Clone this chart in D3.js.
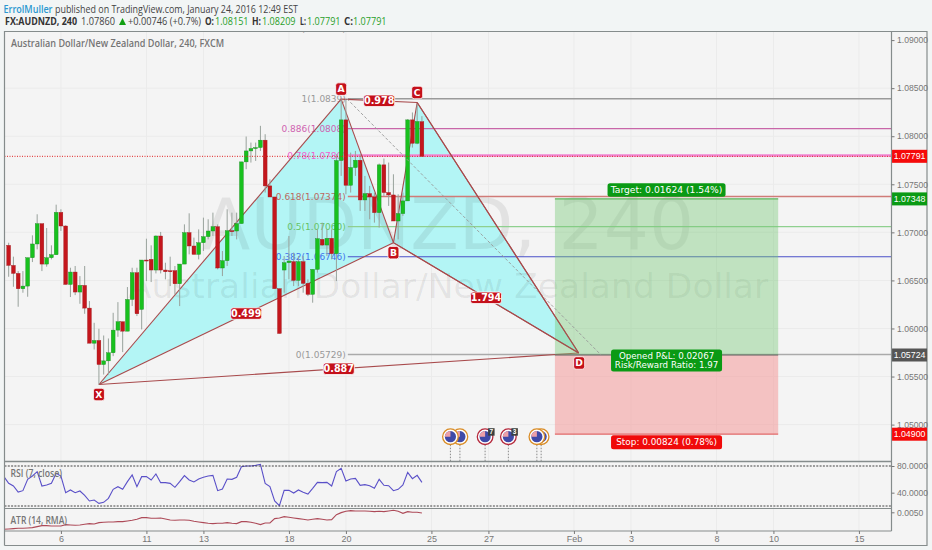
<!DOCTYPE html>
<html><head><meta charset="utf-8">
<script src="https://cdn.jsdelivr.net/npm/d3@7/dist/d3.min.js"></script>
<style>html,body{margin:0;padding:0;background:#f2f5f5;overflow:hidden}svg{display:block}</style>
</head><body><svg id="c" width="932" height="550"></svg>
<script>
// Candle data, bar index = array position
const opens=[1.06865,1.06656,1.06573,1.06413,1.06441,1.06736,1.06879,1.07090,1.06670,1.06736,1.06767,1.07208,1.07066,1.06458,1.06587,1.06379,1.06448,1.06212,1.05847,1.05875,1.05625,1.05663,1.05747,1.05983,1.06070,1.05972,1.06302,1.06580,1.06198,1.06712,1.06719,1.06608,1.06962,1.06608,1.06600,1.06601,1.06465,1.06670,1.06997,1.06858,1.06771,1.06892,1.06955,1.07014,1.07059,1.06629,1.06705,1.07017,1.07014,1.07091,1.07733,1.07847,1.07872,1.07882,1.07959,1.07483,1.07368,1.06414,1.06608,1.06684,1.06695,1.06500,1.06695,1.06469,1.06355,1.06615,1.06927,1.06868,1.06938,1.06778,1.07747,1.08170,1.07490,1.07674,1.07750,1.07337,1.07403,1.07368,1.07205,1.07702,1.07414,1.07389,1.07118,1.07195,1.07327,1.08170,1.07927,1.08151];
const highs=[1.06892,1.06747,1.06597,1.06597,1.06736,1.06969,1.07188,1.07090,1.07045,1.06865,1.07288,1.07240,1.07073,1.06632,1.06650,1.06545,1.06650,1.06285,1.06059,1.05997,1.05927,1.05896,1.06163,1.06274,1.06070,1.06431,1.06632,1.06632,1.06712,1.06934,1.06865,1.06969,1.07004,1.06684,1.06747,1.06650,1.06670,1.07083,1.07198,1.06945,1.07031,1.07153,1.07136,1.07205,1.07083,1.06806,1.07240,1.07205,1.07205,1.07733,1.07997,1.07934,1.07934,1.08108,1.08021,1.07552,1.07368,1.06414,1.06754,1.06962,1.06789,1.06754,1.06754,1.06511,1.06615,1.07032,1.07101,1.07032,1.07032,1.07813,1.08386,1.08386,1.07830,1.07847,1.07813,1.07587,1.07483,1.07414,1.07716,1.07768,1.07726,1.07604,1.07396,1.07414,1.08177,1.08247,1.08334,1.08209];
const lows=[1.06538,1.06434,1.06226,1.06372,1.06330,1.06691,1.06823,1.06597,1.06643,1.06719,1.06767,1.07014,1.06458,1.06327,1.06347,1.06257,1.06153,1.05847,1.05781,1.05417,1.05521,1.05521,1.05712,1.05913,1.05754,1.05972,1.06233,1.06129,1.05990,1.06493,1.06483,1.06573,1.06573,1.06511,1.06441,1.06354,1.06233,1.06670,1.06771,1.06771,1.06719,1.06806,1.06927,1.06962,1.06615,1.06545,1.06650,1.06962,1.06927,1.07091,1.07657,1.07726,1.07743,1.07847,1.07414,1.07368,1.06414,1.05948,1.06372,1.06511,1.06441,1.06441,1.06372,1.06337,1.06268,1.06580,1.06858,1.06754,1.06719,1.06493,1.07587,1.07396,1.07414,1.07587,1.07223,1.07223,1.07136,1.07101,1.07049,1.07379,1.07275,1.07118,1.06927,1.07171,1.07327,1.07882,1.07917,1.07791];
const closes=[1.06656,1.06573,1.06413,1.06441,1.06736,1.06879,1.07090,1.06670,1.06736,1.06767,1.07208,1.07066,1.06458,1.06587,1.06379,1.06448,1.06212,1.05847,1.05875,1.05625,1.05663,1.05747,1.05983,1.06070,1.05972,1.06302,1.06580,1.06153,1.06712,1.06705,1.06608,1.06962,1.06608,1.06590,1.06593,1.06465,1.06670,1.06997,1.06858,1.06771,1.06892,1.06955,1.07014,1.07059,1.06629,1.06705,1.07017,1.07010,1.07091,1.07733,1.07847,1.07872,1.07882,1.07959,1.07483,1.07368,1.06414,1.05948,1.06684,1.06702,1.06500,1.06695,1.06469,1.06355,1.06615,1.06934,1.06868,1.06938,1.06778,1.07747,1.08170,1.07490,1.07674,1.07750,1.07337,1.07403,1.07368,1.07205,1.07702,1.07414,1.07389,1.07118,1.07195,1.07327,1.08170,1.07927,1.08153,1.07791];
// RSI and ATR start one bar before the first candle
const rsiValues=[64,54,50,41,43,60,65,71.5,50,51.5,54,69,65,40,44,40,42.5,36,27.5,29,24,25.5,31.5,45,49,45,56.5,66.5,49,64,64,59,68,55,55,54,48,56.5,65.5,59,56,60.5,63,65,66,43,45.5,60.5,60,63,79,80,80,81,82.5,54,49,27.5,20.5,43.5,43.5,39.5,44,40.5,38,46.5,55.5,55,55.5,50,71.5,76.5,57.5,60.5,61.5,51,52,50.5,46.5,60,51,50.5,43,45,51.5,70.5,61,66,55.5];
const atrValues=[.00245,.0025,.00255,.0026,.0026,.00265,.0027,.00285,.003,.003,.00295,.00295,.00295,.00315,.0031,.00305,.0031,.0032,.0033,.00325,.00345,.0035,.00355,.00355,.0036,.0036,.0037,.0038,.00395,.0042,.0042,.0041,.0041,.00415,.004,.00385,.0038,.00385,.00385,.0038,.00365,.00355,.00345,.00335,.0033,.00335,.00335,.00345,.00335,.0033,.0036,.0036,.0035,.00335,.00315,.0034,.0034,.00405,.00415,.00435,.00425,.00415,.00405,.00395,.00385,.00395,.00405,.00395,.00385,.0039,.00465,.00495,.00515,.00525,.0052,.0052,.0052,.00515,.0051,.00515,.0051,.0052,.0053,.00515,.00485,.0051,.005,.005,.0049];
const priceTicks=[1.05,1.055,1.06,1.065,1.07,1.075,1.08,1.085,1.09];
const dateBars=[11,29,41,59,71,89,101,119,131,149,161,179];
const dateLabels=["6","11","13","18","20","25","27","Feb","3","8","10","15"];
const rsiTicks=[80,40];
const atrTicks=[.005];
// Harmonic pattern
const patNames=["X","A","B","C","D"];
const patBars=[19,70,81,86,120];
const patPrices=[1.05417,1.08386,1.06893,1.08351,1.05745];
const patRatios=[["X","B","0.499"],["B","D","1.794"],["X","D","0.887"],["A","C","0.978"]];
// Fibonacci levels
const fibRatios=["1.272","1","0.886","0.78","0.618","0.5","0.382","0"];
const fibPrices=[1.09113,1.0839,1.0808,1.0780,1.07374,1.0706,1.06746,1.05729];
const fibColors=["#999","#999","#cf63b0","#f060d0","#bb6a62","#66c266","#3f73ee","#999"];
const fibLines=["none","#9a9a9a","#c866a8","#f184d2","#d07b78","#8fd08f","#4a50c8","#aaaaaa"];
const fibWidths=[0,1.5,1.2,2.4,1.5,1.2,1.2,1.5];
// Long position tool
const boxBars=[115,162];
const target=1.07348, entry=1.05724, stop=1.049, last=1.07791;
// Events
const eventBars=[93,95,100.3,105.2,111.2,112.1];
const eventRing=["#d98c26","#d98c26","#b5293c","#b5293c","#d98c26","#d98c26"];
const eventBadge=["","","7","3","",""];
const dashEnd=[124.8,1.0572];

const L=4.5,R=891.5,T=31.5,MB=461.5,RB=508.5,B=531,OR=927,OB=545.5;
const svg=d3.select("#c");
const x=d3.scaleLinear().domain([0,100]).range([8.67,483.67]);
const y=d3.scaleLinear().domain([1.05,1.09]).range([424.6,40.1]);
const yRsi=d3.scaleLinear().domain([20,80]).range([506,466]);
const yAtr=d3.scaleLinear().domain([0,.005]).range([545.6,512.3]);
const TF="'Liberation Sans',Arial,sans-serif", DF="'DejaVu Sans',sans-serif", HF="'Open Sans',sans-serif";
const defs=svg.append("defs");
defs.append("clipPath").attr("id","cm").append("rect").attr("x",L).attr("y",T).attr("width",R-L).attr("height",MB-T);
defs.append("clipPath").attr("id","cr").append("rect").attr("x",L).attr("y",MB).attr("width",R-L).attr("height",RB-MB);
defs.append("clipPath").attr("id","ca").append("rect").attr("x",L).attr("y",RB).attr("width",R-L).attr("height",B-RB);

svg.append("rect").attr("x",L).attr("y",T).attr("width",OR-L).attr("height",OB-T).attr("fill","#f4f4f4");
const grid=svg.append("g").attr("stroke","#ebebeb").attr("stroke-width",1);
grid.selectAll("line.v").data(dateBars).join("line").attr("x1",d=>x(d)).attr("x2",d=>x(d)).attr("y1",T).attr("y2",B);
grid.selectAll("line.h").data(priceTicks.filter(d=>d<1.09)).join("line").attr("x1",L).attr("x2",R).attr("y1",d=>y(d)).attr("y2",d=>y(d));

const main=svg.append("g").attr("clip-path","url(#cm)");
const pts={};patNames.forEach((n,i)=>pts[n]=[x(patBars[i]),y(patPrices[i])]);
const ln=d3.line();
[["X","A","B"],["B","C","D"]].forEach(t=>{
  main.append("path").attr("d",ln(t.map(n=>pts[n]))+"Z").attr("fill","#b3f5f5");
});
// watermark above the fills
main.append("text").text("AUDNZD, 240").attr("x",(L+R)/2).attr("y",248.5).attr("text-anchor","middle")
  .attr("font-family",DF).attr("font-size",71).attr("fill","#000").attr("fill-opacity",.07);
main.append("text").text("Australian Dollar/New Zealand Dollar").attr("x",(L+R)/2).attr("y",298).attr("text-anchor","middle")
  .attr("font-family",DF).attr("font-size",34.6).attr("fill","#000").attr("fill-opacity",.07);
// fib levels below the candles
fibRatios.forEach((r,i)=>{
  if(fibWidths[i]>0) main.append("line").attr("x1",x(71.4)).attr("x2",R).attr("y1",y(fibPrices[i])).attr("y2",y(fibPrices[i]))
    .attr("stroke",fibLines[i]).attr("stroke-width",fibWidths[i]);
  main.append("text").text(r+"("+(i==0||i>3?fibPrices[i].toFixed(5):fibPrices[i].toFixed(4))+")")
    .attr("x",x(71.4)-2).attr("y",y(fibPrices[i])+3.2).attr("text-anchor","end")
    .attr("font-family",DF).attr("font-size",9).attr("fill",fibColors[i]);
});
// pattern lines below the candles
const PL="#a84a4c";
[["X","A"],["A","B"],["B","C"],["C","D"],["X","B"],["B","D"],["X","D"],["A","C"]].forEach(([a,b])=>{
  main.append("line").attr("x1",pts[a][0]).attr("y1",pts[a][1]).attr("x2",pts[b][0]).attr("y2",pts[b][1]).attr("stroke",PL).attr("stroke-width",1.1);
});
// candles
const bars=d3.range(opens.length);
const UP="#18c11e",DN="#c4161c";
main.append("g").selectAll("line").data(bars).join("line")
  .attr("x1",d=>x(d)).attr("x2",d=>x(d)).attr("y1",d=>y(highs[d])).attr("y2",d=>y(lows[d]))
  .attr("stroke","#98a29c").attr("stroke-width",1);
main.append("g").selectAll("rect").data(bars).join("rect")
  .attr("x",d=>x(d)-1.9).attr("width",3.8)
  .attr("y",d=>Math.min(y(opens[d]),y(closes[d])))
  .attr("height",d=>Math.max(1,Math.abs(y(opens[d])-y(closes[d]))))
  .attr("fill",d=>closes[d]>=opens[d]?UP:DN)
  .attr("stroke",d=>closes[d]>=opens[d]?"#1a8a22":"#a01a1e").attr("stroke-width",.4);
// box
const bx0=x(boxBars[0]),bx1=x(boxBars[1]);
main.append("rect").attr("x",bx0).attr("width",bx1-bx0).attr("y",y(target)).attr("height",y(entry)-y(target)).attr("fill","#78c878").attr("fill-opacity",.42);
main.append("rect").attr("x",bx0).attr("width",bx1-bx0).attr("y",y(entry)).attr("height",y(stop)-y(entry)).attr("fill","#f58c8c").attr("fill-opacity",.48);
main.append("line").attr("x1",bx0).attr("x2",bx1).attr("y1",y(target)).attr("y2",y(target)).attr("stroke","#5cb45c").attr("stroke-width",1.3);
main.append("line").attr("x1",bx0).attr("x2",bx1).attr("y1",y(stop)).attr("y2",y(stop)).attr("stroke","#e26a6a").attr("stroke-width",1.3);
main.append("line").attr("x1",bx0).attr("x2",bx1).attr("y1",y(entry)).attr("y2",y(entry)).attr("stroke","#666").attr("stroke-width",1);
// last price dotted
main.append("line").attr("x1",L).attr("x2",R).attr("y1",y(last)).attr("y2",y(last)).attr("stroke","#e02020").attr("stroke-width",1).attr("stroke-dasharray","1 1.5");
// dashed projection
main.append("line").attr("x1",x(71.2)).attr("y1",y(fibPrices[1])).attr("x2",x(dashEnd[0])).attr("y2",y(dashEnd[1]))
  .attr("stroke","#999").attr("stroke-width",.9).attr("stroke-dasharray","3 2");
// redraw the tip of C-D and B-D through the box
[["C","D"],["B","D"]].forEach(([a,b])=>{
  main.append("line").attr("x1",pts[a][0]).attr("y1",pts[a][1]).attr("x2",pts[b][0]).attr("y2",pts[b][1]).attr("stroke",PL).attr("stroke-width",1.1);
});
function tag(g,cx,cy,w,h,txt,fill,o={}){
  g.append("rect").attr("x",cx-w/2).attr("y",cy-h/2).attr("width",w).attr("height",h).attr("rx",o.rx??2.5)
   .attr("fill",fill).attr("stroke",o.stroke||"none").attr("stroke-width",.8);
  [].concat(txt).forEach((t,i,a)=>{
    g.append("text").text(t).attr("x",cx).attr("y",cy+(i-(a.length-1)/2)*(o.lh||9)+(o.fs||10)*.36).attr("text-anchor","middle")
     .attr("font-family",o.ff||DF).attr("font-weight",o.fw||"bold").attr("font-size",o.fs||10).attr("fill","#fff");
  });
}
const pc="#c4101a";
patRatios.forEach(([a,b,t])=>{
  const mx=(pts[a][0]+pts[b][0])/2,my=(pts[a][1]+pts[b][1])/2;
  tag(main,mx,my,31,11.5,t,pc,{fs:9.6,stroke:"#fff"});
});
const offs={X:10,A:-10,B:10,C:-10,D:10};
patNames.forEach(n=>tag(main,pts[n][0]+(n=="D"?.5:0),pts[n][1]+offs[n],11,12.5,n,pc,{fs:9.2,stroke:"#fff"}));
// position labels
const boxMid=x((boxBars[0]+boxBars[1])/2);
tag(main,boxMid,y(target)-9,118,13.5,"Target: 0.01624 (1.54%)","#0a9a14",{fs:9.2,fw:"normal"});
tag(main,boxMid,y(entry)+5.5,111,22,["Opened P&L: 0.02067","Risk/Reward Ratio: 1.97"],"#0a9a14",{fs:8.7,fw:"normal",lh:8.8});
tag(main,boxMid,y(stop)+8,111,14,"Stop: 0.00824 (0.78%)","#f00a0a",{fs:8.9,fw:"normal"});
// events
const evY=436.7;
eventBars.forEach((b,i)=>{
  const ex=x(b);
  svg.append("line").attr("x1",ex).attr("x2",ex).attr("y1",evY+8).attr("y2",MB).attr("stroke","#8a8a8a").attr("stroke-dasharray","1.5 1.5");
});
eventBars.map((b,i)=>i).reverse().forEach(i=>{
  const ex=x(eventBars[i]);
  const g=svg.append("g");
  g.append("circle").attr("cx",ex).attr("cy",evY).attr("r",7.8).attr("fill","#fff").attr("stroke",eventRing[i]).attr("stroke-width",1.3);
  g.append("circle").attr("cx",ex).attr("cy",evY).attr("r",5.6).attr("fill","#3f4aa8");
  g.append("path").attr("d",d3.arc()({innerRadius:0,outerRadius:5.6,startAngle:-Math.PI/2,endAngle:0})).attr("transform",`translate(${ex},${evY})`).attr("fill","#eca0a8");
  if(eventBadge[i]){
    g.append("rect").attr("x",ex+3).attr("y",evY-8.5).attr("width",6.5).attr("height",7.5).attr("fill","#3a3f3f");
    g.append("text").text(eventBadge[i]).attr("x",ex+6.2).attr("y",evY-2.5).attr("text-anchor","middle").attr("font-size",6.5).attr("font-weight","bold").attr("font-family",TF).attr("fill","#fff");
  }
});

// panes
const rsiG=svg.append("g").attr("clip-path","url(#cr)");
rsiG.append("path").attr("fill","none").attr("stroke","#5a50c8").attr("stroke-width",1.1)
  .attr("d",d3.line().x((d,i)=>x(i-1)).y(d=>yRsi(d))(rsiValues));
const atrG=svg.append("g").attr("clip-path","url(#ca)");
atrG.append("path").attr("fill","none").attr("stroke","#ad4a58").attr("stroke-width",1.1)
  .attr("d",d3.line().x((d,i)=>x(i-1)).y(d=>yAtr(d))(atrValues));
[80,20].forEach(v=>svg.append("line").attr("x1",L).attr("x2",R).attr("y1",yRsi(v)).attr("y2",yRsi(v)).attr("stroke","#444").attr("stroke-dasharray","2 1.3"));
// frame
const fr=svg.append("g").attr("stroke","#858c8c").attr("fill","none");
fr.append("path").attr("d",`M${L},${OB}V${T}H${OR}V${OB}H${L}`).attr("stroke-width",1.2);
fr.append("line").attr("x1",R).attr("x2",R).attr("y1",T).attr("y2",B).attr("stroke-width",1.2);
fr.append("line").attr("x1",L).attr("x2",R).attr("y1",MB).attr("y2",MB).attr("stroke-width",1.5);
fr.append("line").attr("x1",L).attr("x2",R).attr("y1",RB).attr("y2",RB).attr("stroke-width",1);
fr.append("line").attr("x1",L).attr("x2",R).attr("y1",B).attr("y2",B).attr("stroke-width",1.2);

function styleAxis(g,fs){
  g.select(".domain").remove();
  g.selectAll(".tick line").attr("stroke","#777");
  g.selectAll(".tick text").attr("font-family",TF).attr("font-size",fs).attr("fill","#777");
}
svg.append("g").attr("transform",`translate(${R},0)`)
  .call(d3.axisRight(y).tickValues(priceTicks).tickSize(3).tickPadding(2.5).tickFormat(d3.format(".5f"))).call(styleAxis,8.6);
svg.append("g").attr("transform",`translate(${R},0)`)
  .call(d3.axisRight(yRsi).tickValues(rsiTicks).tickSize(3).tickPadding(2.5).tickFormat(d3.format(".4f"))).call(styleAxis,8.6);
svg.append("g").attr("transform",`translate(${R},0)`)
  .call(d3.axisRight(yAtr).tickValues(atrTicks).tickSize(3).tickPadding(2.5).tickFormat(d3.format(".4f"))).call(styleAxis,8.6);
svg.append("g").attr("transform",`translate(0,${B})`)
  .call(d3.axisBottom(x).tickValues(dateBars).tickSize(3).tickPadding(2).tickFormat((d,i)=>dateLabels[i])).call(styleAxis,9);

// price tags
[[last,"#f50a0a"],[target,"#0a9a14"],[entry,"#555"],[stop,"#f50a0a"]].forEach(([p,c])=>{
  tag(svg,(R+OR)/2+.3,y(p),35,13,p.toFixed(5),c,{rx:0,ff:TF,fs:8.8,fw:"normal"});
});
// header and pane labels, fitted to the widths in the reference
function hdr(t,xx,yy,w,o={}){
  return svg.append("text").text(t).attr("x",xx).attr("y",yy).attr("font-family",HF).attr("font-size",o.fs||10.5)
    .attr("font-weight",o.fw||"normal").attr("fill",o.c||"#444")
    .attr("textLength",w).attr("lengthAdjust","spacingAndGlyphs");
}
hdr("RSI (7, close)",10.5,477,51.5,{fw:600,c:"#757575",fs:10});
hdr("ATR (14, RMA)",10.5,524,56.5,{fw:600,c:"#757575",fs:10});
hdr("Australian Dollar/New Zealand Dollar, 240, FXCM",11,46.5,213,{fw:600,c:"#757575",fs:10});
hdr("ErrolMuller",3.5,12.5,49,{c:"#2b98d0",fw:600,fs:11.5});
hdr("published on TradingView.com, January 24, 2016 12:49 EST",55,12.5,243,{fs:11});
hdr("FX:AUDNZD, 240",5,25.3,72,{fw:700,c:"#333"});
hdr("1.07860",81,25.3,34);
svg.append("path").attr("d","M119,25L122.5,18L126,25Z").attr("fill","#12a012");
hdr("+0.00746 (+0.7%)",128,25.3,73);
[["O:",205,"1.08151",215],["H:",252,"1.08209",262],["L:",300,"1.07791",307],["C:",344,"1.07791",353]].forEach(([a,ax,b,bx])=>{
  hdr(a,ax,25.3,a=="L:"?6:9,{fw:700,c:"#333"});
  hdr(b,bx,25.3,33.5,{c:"#2aa02a"});
});
</script></body></html>
